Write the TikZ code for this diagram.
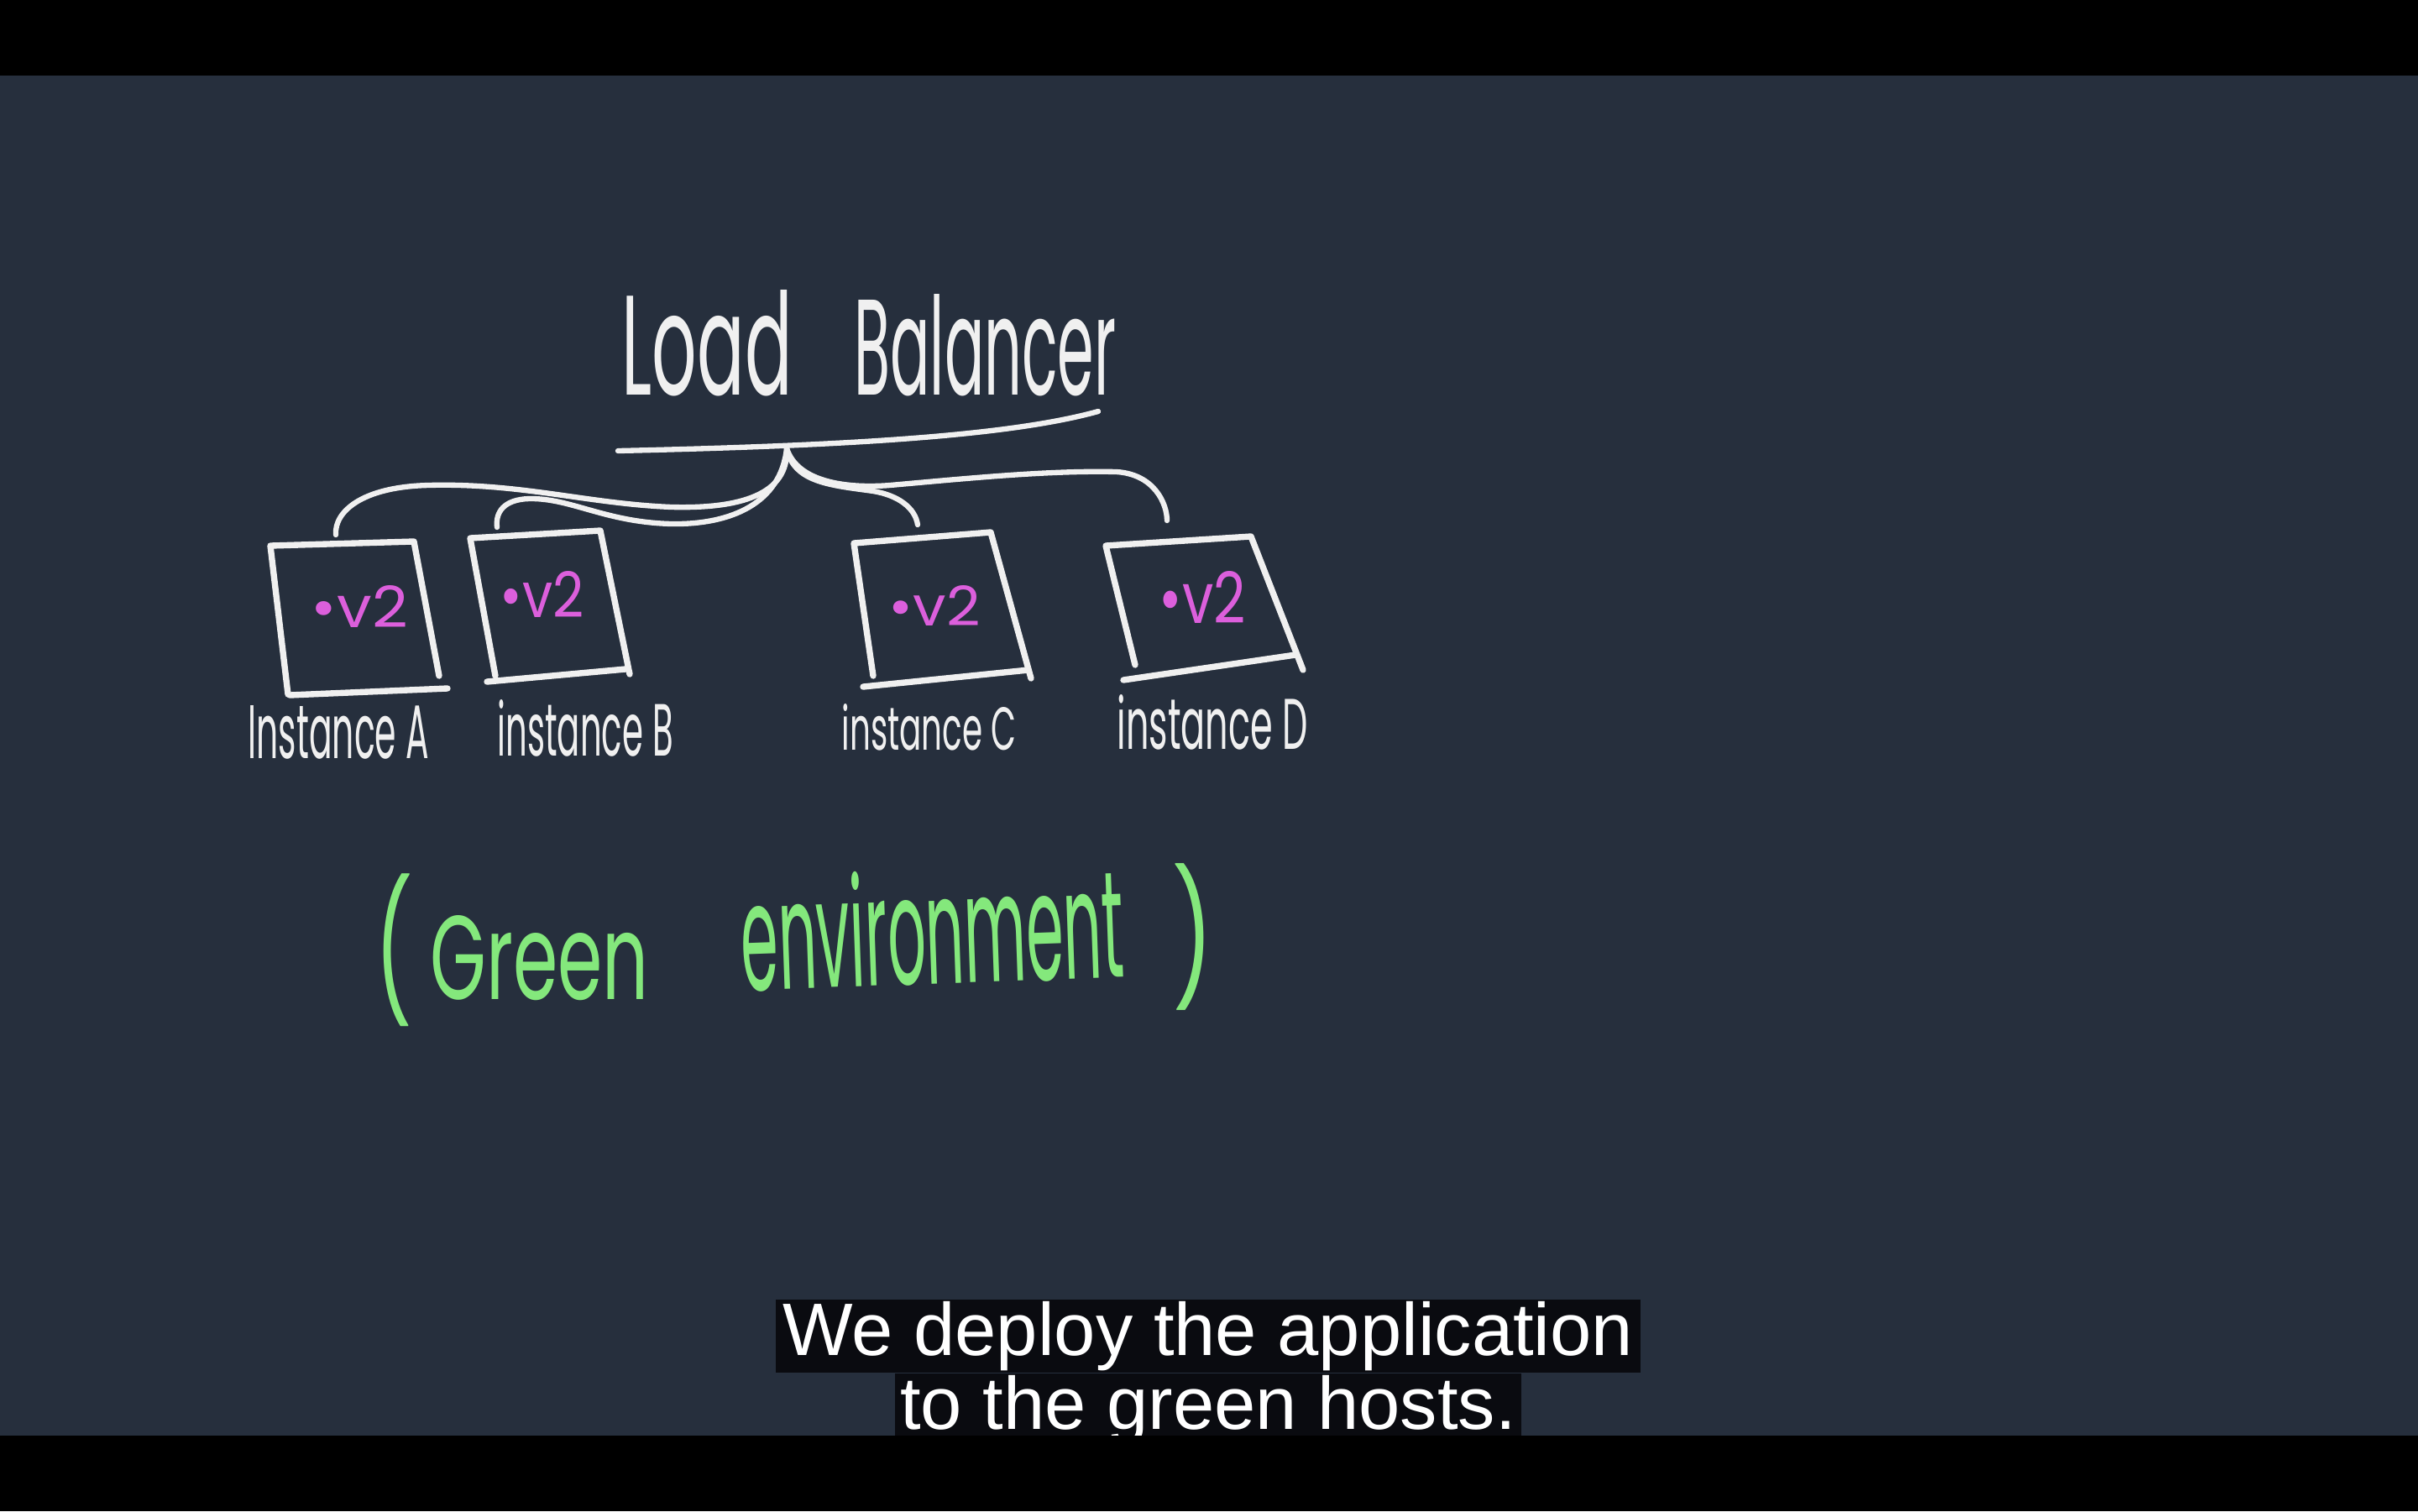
\documentclass[tikz,border=0pt]{standalone}
\usepackage{fontspec}
\usepackage{graphicx}
\usepackage{tikz}
\usetikzlibrary{calc,positioning}
\newfontfamily\handfont{Poppins}
\newfontfamily\subfont{Liberation Sans}
\definecolor{boardSlate}{RGB}{38,47,61}
\definecolor{chalk}{RGB}{240,240,240}
\definecolor{v2pink}{RGB}{220,95,220}
\definecolor{envGreen}{RGB}{132,232,124}
\definecolor{subBlack}{RGB}{10,11,16}
% squeezed hand lettering: width, height, text
\newcommand{\handtext}[3]{\resizebox{#1}{#2}{\handfont #3}}
\newcommand{\handtextall}[3]{\resizebox*{#1}{#2}{\handfont #3}}

\begin{document}
\begin{tikzpicture}[x=1cm,y=1cm,
    sketch/.style={draw=chalk, line width=2.1pt, line cap=round, line join=round},
    wire/.style={draw=chalk, line width=1.8pt, line cap=round},
    hand/.style={anchor=base west, inner sep=0pt, text=chalk},
    tag/.style={anchor=base west, inner sep=0pt, text=v2pink},
    greenhand/.style={inner sep=0pt, text=envGreen},
    subline/.style={fill=subBlack, text=white, inner sep=0pt,
        font=\subfont\fontsize{25.2pt}{30pt}\selectfont}]

\useasboundingbox (0,0) rectangle (28.8,-18);
\fill[boardSlate] (0,0) rectangle (28.8,-18);

% =========================
% 1. load balancer
% =========================
\node[hand] (lb) at (7.40,-4.70)
    {\handtext{2.03cm}{1.25cm}{Load} \hspace{0.62cm}\handtext{3.12cm}{1.20cm}{Balancer}};
\draw[wire] (7.36,-5.37) .. controls (10.00,-5.31) and (12.00,-5.20) .. (13.08,-4.90);
\coordinate (hub) at (9.37,-5.34);

% =========================
% 2. instances
% =========================
% instance A
\draw[sketch] (5.23,-8.05) -- (4.93,-6.45) -- (3.22,-6.50) -- (3.43,-8.27);
\draw[sketch] (3.45,-8.28) -- (5.33,-8.20);
\coordinate (topA) at (4.00,-6.37);
\node[tag] (v2A) at (3.70,-7.47) {\handtext{1.15cm}{0.50cm}{\textbullet v2}};
\node[hand] (instA) at (2.95,-9.03) {\handtext{2.15cm}{0.63cm}{Instance A}};

% instance B
\draw[sketch] (7.50,-8.03) -- (7.15,-6.32) -- (5.60,-6.41) -- (5.90,-8.05);
\draw[sketch] (5.80,-8.12) -- (7.45,-7.97);
\coordinate (topB) at (5.92,-6.28);
\node[tag] (v2B) at (5.95,-7.35) {\handtext{1.00cm}{0.55cm}{\textbullet v2}};
\node[hand] (instB) at (5.92,-9.00) {\handtext{2.09cm}{0.67cm}{instance B}};

% instance C
\draw[sketch] (12.28,-8.08) -- (11.80,-6.34) -- (10.17,-6.47) -- (10.40,-8.05);
\draw[sketch] (10.28,-8.18) -- (12.25,-7.98);
\coordinate (topC) at (10.93,-6.25);
\node[tag] (v2C) at (10.58,-7.45) {\handtext{1.09cm}{0.48cm}{\textbullet v2}};
\node[hand] (instC) at (10.02,-8.93) {\handtext{2.08cm}{0.55cm}{instance C}};

% instance D
\draw[sketch] (15.52,-7.98) -- (14.90,-6.39) -- (13.17,-6.50) -- (13.52,-7.92);
\draw[sketch] (13.38,-8.10) -- (15.43,-7.80);
\coordinate (topD) at (13.90,-6.20);
\node[tag] (v2D) at (13.80,-7.42) {\handtext{1.03cm}{0.62cm}{\textbullet v2}};
\node[hand] (instD) at (13.30,-8.92) {\handtext{2.27cm}{0.65cm}{instance D}};

% wires from the balancer down to each box
\draw[wire] (hub) .. controls (9.40,-5.90) and (8.80,-6.06) .. (8.00,-6.04)
    .. controls (7.00,-6.00) and (6.20,-5.75) .. (5.10,-5.78)
    .. controls (4.30,-5.80) and (3.98,-6.10) .. (topA);
\draw[wire] (hub) .. controls (9.30,-6.00) and (8.70,-6.25) .. (8.00,-6.24)
    .. controls (7.20,-6.22) and (6.80,-5.93) .. (6.30,-5.94)
    .. controls (6.00,-5.95) and (5.90,-6.10) .. (topB);
\draw[wire] (hub) .. controls (9.45,-5.75) and (9.90,-5.78) .. (10.40,-5.85)
    .. controls (10.70,-5.90) and (10.90,-6.05) .. (topC);
\draw[wire] (hub) .. controls (9.50,-5.75) and (10.10,-5.82) .. (10.60,-5.78)
    .. controls (11.50,-5.70) and (12.50,-5.60) .. (13.30,-5.62)
    .. controls (13.75,-5.65) and (13.90,-6.00) .. (topD);

% =========================
% 3. green environment
% =========================
\node[greenhand, anchor=north west] (envL) at (4.46,-10.40) {\handtextall{0.45cm}{1.82cm}{(}};
\node[greenhand, anchor=base west] (envG) at (5.12,-11.90) {\handtext{2.60cm}{1.00cm}{Green}};
\node[greenhand, anchor=base west, rotate=2] (envE) at (8.84,-11.80)
    {\handtext{4.56cm}{1.37cm}{environment}};
\node[greenhand, anchor=north west] (envR) at (13.96,-10.28) {\handtextall{0.49cm}{1.75cm}{)}};

% =========================
% 4. subtitle and bars
% =========================
\node[subline, minimum width=10.30cm, minimum height=0.87cm] (sub1) at (14.39,-15.915)
    {We deploy the application};
\node[subline, minimum width=7.46cm, minimum height=0.87cm, below=0pt of sub1] (sub2)
    {to the green hosts.};

\fill[black] (0,0) rectangle (28.8,-0.90);
\fill[black] (0,-17.10) rectangle (28.8,-18);

\end{tikzpicture}
\end{document}
